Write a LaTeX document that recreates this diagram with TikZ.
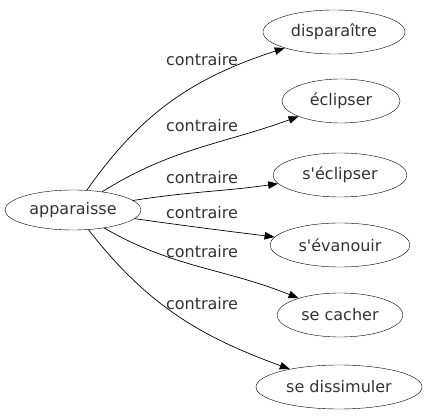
\documentclass[tikz,border=0pt]{standalone}
\usepackage{fontspec}
\setmainfont{DejaVu Sans}
\usetikzlibrary{shapes.geometric,arrows.meta}
\begin{document}
\begin{tikzpicture}[x=1pt,y=-1pt,
  word/.style={draw,ellipse,inner sep=0pt,minimum height=44pt,font=\fontsize{16}{18}\selectfont,text=black!80},
  rel/.style={font=\fontsize{16}{18}\selectfont,text=black!80},
  link/.style={-{Triangle[length=10pt,width=7.5pt]},line width=0.7pt}]
\useasboundingbox (0,0) rectangle (426,419);
\node[word,minimum width=136pt,minimum height=40pt] (a) at (73,210) {apparaisse};
\node[word,minimum width=142pt] (b1) at (334,32) {disparaître};
\node[word,minimum width=118pt] (b2) at (341,101) {éclipser};
\node[word,minimum width=134pt] (b3) at (340,175) {s\textquotesingle éclipser};
\node[word,minimum width=140pt] (b4) at (340,245) {s\textquotesingle évanouir};
\node[word,minimum width=126pt] (b5) at (340,315) {se cacher};
\node[word,minimum width=166pt] (b6) at (339,387) {se dissimuler};
\draw[link] (a) to[out=55,in=198] (b1);
\draw[link] (a) to[out=32,in=200] (b2);
\draw[link] (a) to[out=9,in=188] (b3);
\draw[link] (a) to[out=-8,in=173] (b4);
\draw[link] (a) to[out=-30,in=158] (b5);
\draw[link] (a) to[out=-52,in=160] (b6);
\node[rel] (l1) at (202,60) {contraire};
\node[rel] (l2) at (202,126) {contraire};
\node[rel] (l3) at (202,178) {contraire};
\node[rel] (l4) at (202,213) {contraire};
\node[rel] (l5) at (202,252) {contraire};
\node[rel] (l6) at (202,304) {contraire};
\end{tikzpicture}
\end{document}
